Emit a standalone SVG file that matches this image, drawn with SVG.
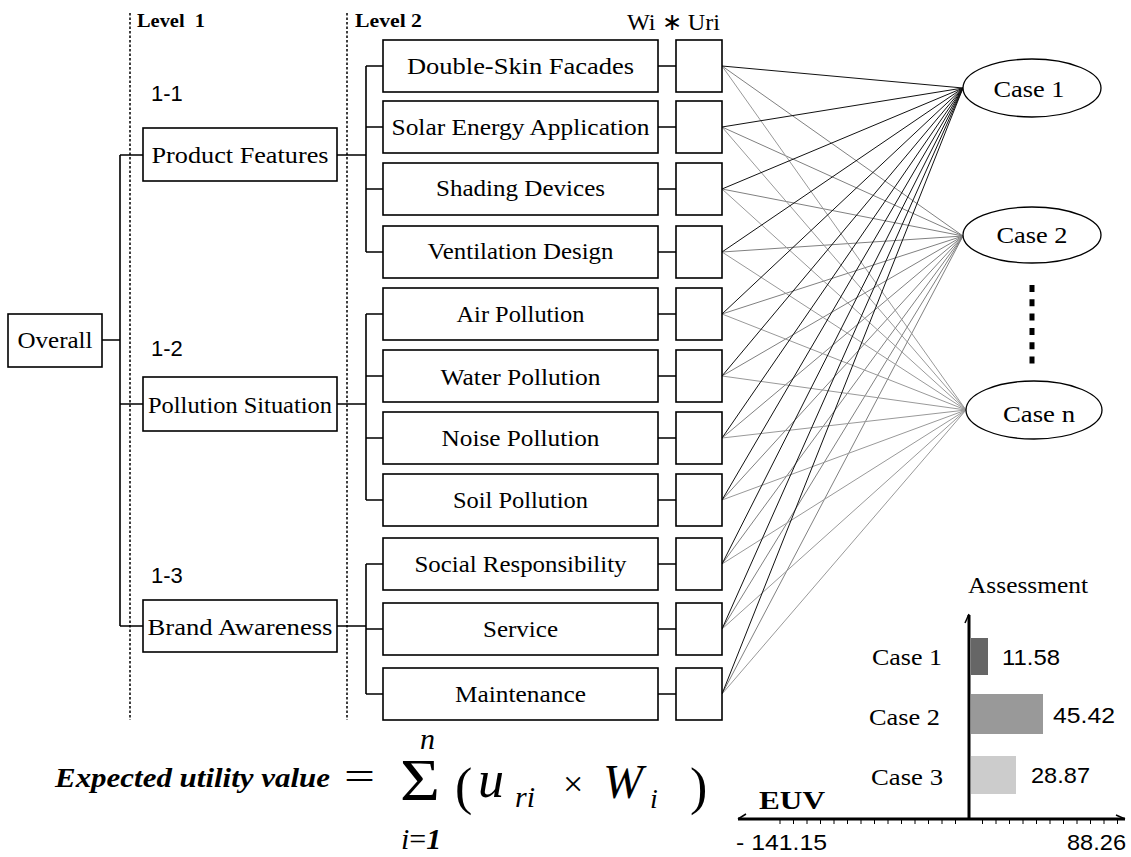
<svg xmlns="http://www.w3.org/2000/svg" width="1131" height="857" viewBox="0 0 1131 857">
<style>
.box{fill:#fff;stroke:#000;stroke-width:1.6}
.t{font-family:"Liberation Serif",serif;font-size:24px;fill:#000}
.s{font-family:"Liberation Sans",sans-serif;font-size:22px;fill:#000}
.lv{font-family:"Liberation Serif",serif;font-size:18px;font-weight:bold;fill:#000}
.c{stroke:#000;stroke-width:1.6;fill:none}
.dot{stroke:#000;stroke-width:1.5;stroke-dasharray:2.5 2;fill:none}
.f1{stroke:#111;stroke-width:1}
.f2{stroke:#808080;stroke-width:1}
.f3{stroke:#999;stroke-width:1}
.m{font-family:"Liberation Serif",serif;fill:#000}
</style>
<rect width="1131" height="857" fill="#fff"/>

<g id="guides">
<line class="dot" x1="130" y1="13" x2="130" y2="720"/>
<line class="dot" x1="347" y1="13" x2="347" y2="720"/>
<text class="lv" x="137" y="27" textLength="68" lengthAdjust="spacingAndGlyphs" xml:space="preserve">Level  1</text>
<text class="lv" x="355" y="27" textLength="67" lengthAdjust="spacingAndGlyphs">Level 2</text>
<text class="t" x="627" y="30" font-size="22" textLength="93" lengthAdjust="spacingAndGlyphs">Wi ∗ Uri</text>
<text class="s" x="151" y="101">1-1</text>
<text class="s" x="151" y="356">1-2</text>
<text class="s" x="151" y="583">1-3</text>
</g>

<g id="connectors">
<path class="c" d="M102 340H120M120 155V626M120 155H143M120 404H143M120 626H143"/>
<path class="c" d="M337 155H366M366 66V252M366 66H383M366 127H383M366 189H383M366 252H383"/>
<path class="c" d="M337 404H366M366 314V500M366 314H383M366 376H383M366 438H383M366 500H383"/>
<path class="c" d="M337 626H366M366 564V694M366 564H383M366 629H383M366 694H383"/>
<path class="c" d="M658 66H676M658 127H676M658 189H676M658 252H676M658 314H676M658 376H676M658 438H676M658 500H676M658 564H676M658 629H676M658 694H676"/>
<g id="fan-case2">
<path class="f2" d="M722 66L963 236M722 127L963 236M722 189L963 236M722 252L963 236M722 314L963 236M722 376L963 236M722 438L963 236M722 500L963 236M722 564L963 236M722 629L963 236M722 694L963 236"/>
</g>
<g id="fan-casen">
<path class="f3" d="M722 66L966 410M722 127L966 410M722 189L966 410M722 252L966 410M722 314L966 410M722 376L966 410M722 438L966 410M722 500L966 410M722 564L966 410M722 629L966 410M722 694L966 410"/>
</g>
<g id="fan-case1">
<path class="f1" d="M722 66L963 88M722 127L963 88M722 189L963 88M722 252L963 88M722 314L963 88M722 376L963 88M722 438L963 88M722 500L963 88M722 564L963 88M722 629L963 88M722 694L963 88"/>
</g>
</g>

<g id="overall"><rect class="box" x="8" y="314" width="94" height="53"/><text class="t" x="55" y="348" text-anchor="middle" textLength="75" lengthAdjust="spacingAndGlyphs">Overall</text></g>
<g id="product-features"><rect class="box" x="143" y="128" width="194" height="53"/><text class="t" x="240" y="163" text-anchor="middle" textLength="177" lengthAdjust="spacingAndGlyphs">Product Features</text></g>
<g id="pollution-situation"><rect class="box" x="143" y="377" width="194" height="54"/><text class="t" x="240" y="413" text-anchor="middle" textLength="184" lengthAdjust="spacingAndGlyphs">Pollution Situation</text></g>
<g id="brand-awareness"><rect class="box" x="143" y="600" width="194" height="52"/><text class="t" x="240" y="635" text-anchor="middle" textLength="185" lengthAdjust="spacingAndGlyphs">Brand Awareness</text></g>

<g id="double-skin"><rect class="box" x="383" y="40" width="275" height="52"/><text class="t" x="520.5" y="74" text-anchor="middle" textLength="227" lengthAdjust="spacingAndGlyphs">Double-Skin Facades</text></g>
<g id="solar"><rect class="box" x="383" y="101" width="275" height="52"/><text class="t" x="520.5" y="135" text-anchor="middle" textLength="258" lengthAdjust="spacingAndGlyphs">Solar Energy Application</text></g>
<g id="shading"><rect class="box" x="383" y="163" width="275" height="52"/><text class="t" x="520.5" y="196" text-anchor="middle" textLength="169" lengthAdjust="spacingAndGlyphs">Shading Devices</text></g>
<g id="ventilation"><rect class="box" x="383" y="226" width="275" height="52"/><text class="t" x="520.5" y="259" text-anchor="middle" textLength="186" lengthAdjust="spacingAndGlyphs">Ventilation Design</text></g>
<g id="air"><rect class="box" x="383" y="288" width="275" height="52"/><text class="t" x="520.5" y="322" text-anchor="middle" textLength="128" lengthAdjust="spacingAndGlyphs">Air Pollution</text></g>
<g id="water"><rect class="box" x="383" y="350" width="275" height="52"/><text class="t" x="520.5" y="385" text-anchor="middle" textLength="160" lengthAdjust="spacingAndGlyphs">Water Pollution</text></g>
<g id="noise"><rect class="box" x="383" y="412" width="275" height="52"/><text class="t" x="520.5" y="446" text-anchor="middle" textLength="158" lengthAdjust="spacingAndGlyphs">Noise Pollution</text></g>
<g id="soil"><rect class="box" x="383" y="474" width="275" height="52"/><text class="t" x="520.5" y="508" text-anchor="middle" textLength="135" lengthAdjust="spacingAndGlyphs">Soil Pollution</text></g>
<g id="social"><rect class="box" x="383" y="538" width="275" height="52"/><text class="t" x="520.5" y="572" text-anchor="middle" textLength="212" lengthAdjust="spacingAndGlyphs">Social Responsibility</text></g>
<g id="service"><rect class="box" x="383" y="603" width="275" height="52"/><text class="t" x="520.5" y="637" text-anchor="middle" textLength="75" lengthAdjust="spacingAndGlyphs">Service</text></g>
<g id="maintenance"><rect class="box" x="383" y="668" width="275" height="52"/><text class="t" x="520.5" y="702" text-anchor="middle" textLength="131" lengthAdjust="spacingAndGlyphs">Maintenance</text></g>

<g id="uri-boxes">
<rect class="box" x="676" y="40" width="46" height="52"/>
<rect class="box" x="676" y="101" width="46" height="52"/>
<rect class="box" x="676" y="163" width="46" height="52"/>
<rect class="box" x="676" y="226" width="46" height="52"/>
<rect class="box" x="676" y="288" width="46" height="52"/>
<rect class="box" x="676" y="350" width="46" height="52"/>
<rect class="box" x="676" y="412" width="46" height="52"/>
<rect class="box" x="676" y="474" width="46" height="52"/>
<rect class="box" x="676" y="538" width="46" height="52"/>
<rect class="box" x="676" y="603" width="46" height="52"/>
<rect class="box" x="676" y="668" width="46" height="52"/>
</g>

<g id="case1"><ellipse cx="1032" cy="88" rx="69" ry="29" fill="#fff" stroke="#000" stroke-width="1.3"/><text class="t" x="1029" y="97" text-anchor="middle" font-size="22" textLength="71" lengthAdjust="spacingAndGlyphs">Case 1</text></g>
<g id="case2"><ellipse cx="1032" cy="235" rx="69" ry="28" fill="#fff" stroke="#000" stroke-width="1.3"/><text class="t" x="1032" y="243" text-anchor="middle" font-size="22" textLength="71" lengthAdjust="spacingAndGlyphs">Case 2</text></g>
<line x1="1032" y1="285" x2="1032" y2="364" stroke="#000" stroke-width="5" stroke-dasharray="7 7.3"/>
<g id="casen"><ellipse cx="1034" cy="410" rx="68" ry="29" fill="#fff" stroke="#000" stroke-width="1.3"/><text class="t" x="1039" y="422" text-anchor="middle" font-size="22" textLength="72" lengthAdjust="spacingAndGlyphs">Case n</text></g>

<g id="chart">
<text class="t" x="968" y="593" textLength="120" lengthAdjust="spacingAndGlyphs">Assessment</text>
<rect x="971" y="638" width="17" height="37" fill="#666"/>
<rect x="971" y="694" width="72" height="40" fill="#999"/>
<rect x="971" y="756" width="45" height="38" fill="#ccc"/>
<line x1="969" y1="819" x2="969" y2="615" stroke="#000" stroke-width="3"/>
<path d="M965 623L969 614" stroke="#000" stroke-width="1.5" fill="none"/>
<line x1="738" y1="819" x2="1125" y2="819" stroke="#000" stroke-width="3"/>
<path d="M738 819L746 814M1125 819L1116 815" stroke="#000" stroke-width="1.5" fill="none"/>
<path d="M780 820v4M793.5 820v4M807 820v4M820.5 820v4M834 820v4M847.5 820v4M861 820v4M874.5 820v4M888 820v4M901.5 820v4M915 820v4M928.5 820v4M942 820v4M955.5 820v4M982.5 820v4M996 820v4M1009.5 820v4M1023 820v4M1036.5 820v4M1050 820v4M1063.5 820v4M1077 820v4M1090.5 820v4M1104 820v4M1117.5 820v4" stroke="#000" stroke-width="1"/>
<text class="t" x="872" y="665" textLength="70" lengthAdjust="spacingAndGlyphs">Case 1</text>
<text class="t" x="869" y="725" textLength="71" lengthAdjust="spacingAndGlyphs">Case 2</text>
<text class="t" x="871" y="785" textLength="72" lengthAdjust="spacingAndGlyphs">Case 3</text>
<text class="s" x="1002" y="665" font-size="23" textLength="58" lengthAdjust="spacingAndGlyphs">11.58</text>
<text class="s" x="1053" y="723" font-size="23" textLength="62" lengthAdjust="spacingAndGlyphs">45.42</text>
<text class="s" x="1031" y="783" font-size="23" textLength="59" lengthAdjust="spacingAndGlyphs">28.87</text>
<text class="m" x="759" y="809" font-size="26" font-weight="bold" textLength="66" lengthAdjust="spacingAndGlyphs">EUV</text>
<text class="s" x="736" y="850" font-size="23" textLength="91" lengthAdjust="spacingAndGlyphs">- 141.15</text>
<text class="s" x="1067" y="850" font-size="23" textLength="59" lengthAdjust="spacingAndGlyphs">88.26</text>
</g>

<g id="formula">
<text class="m" x="55" y="787" font-size="27" font-weight="bold" font-style="italic" textLength="275" lengthAdjust="spacingAndGlyphs">Expected utility value</text>
<text class="m" x="344" y="790" font-size="40" textLength="31" lengthAdjust="spacingAndGlyphs">=</text>
<text class="m" x="400" y="800" font-size="60" textLength="40" lengthAdjust="spacingAndGlyphs">Σ</text>
<text class="m" x="420" y="749" font-size="30" font-style="italic">n</text>
<text class="m" x="401" y="849" font-size="30" font-style="italic">i<tspan font-style="normal">=</tspan><tspan font-weight="bold">1</tspan></text>
<text class="m" x="455" y="804" font-size="52">(</text>
<text class="m" x="478" y="797" font-size="52" font-style="italic">u</text>
<text class="m" x="515" y="807" font-size="30" font-style="italic">ri</text>
<text class="m" x="563" y="796" font-size="36">×</text>
<text class="m" x="603" y="798" font-size="48" font-style="italic">W</text>
<text class="m" x="650" y="808" font-size="28" font-style="italic">i</text>
<text class="m" x="690" y="804" font-size="52">)</text>
</g>
</svg>
